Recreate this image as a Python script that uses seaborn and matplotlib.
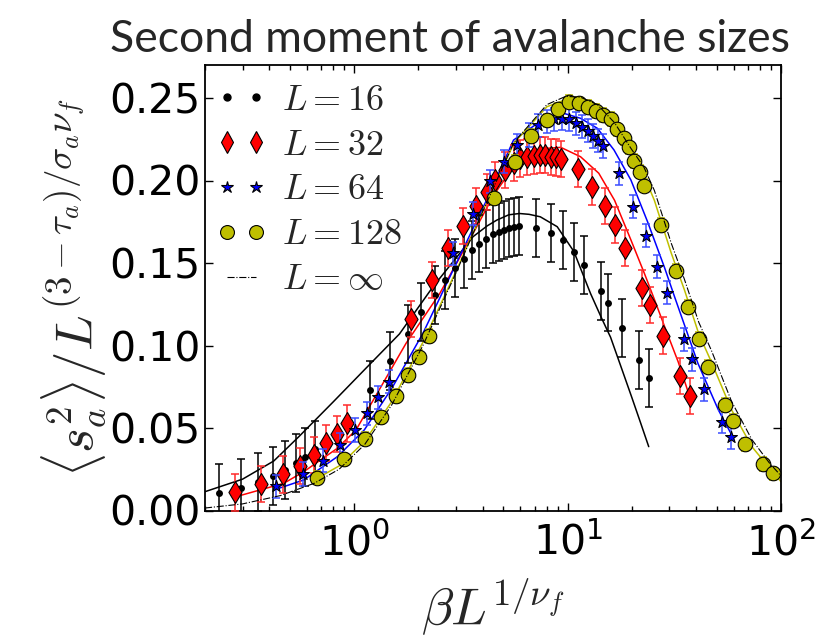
import numpy as np
import matplotlib
matplotlib.use('Agg')
import matplotlib.pyplot as plt
import seaborn as sns
from matplotlib.lines import Line2D
from matplotlib.font_manager import FontProperties
from matplotlib.ticker import FormatStrFormatter

# ---------------- data ----------------
# L = 16 data points
x16 = [0.233, 0.294, 0.354, 0.415, 0.473, 0.531, 0.589, 0.653, 1.186, 1.473, 1.786, 2.06,
       2.38, 2.67, 2.97, 3.27, 3.58, 3.86, 4.16, 4.46, 4.76, 5.05, 5.33, 5.63, 5.95, 7.13,
       8.32, 9.53, 10.7, 11.9, 14.3, 15.5, 17.9, 21.6, 24.0]
y16 = [0.0104, 0.0138, 0.0175, 0.0207, 0.0245, 0.029, 0.0326, 0.037, 0.073, 0.0908, 0.107,
       0.1205, 0.1306, 0.1397, 0.147, 0.1522, 0.158, 0.1618, 0.1644, 0.1674, 0.169, 0.170,
       0.171, 0.172, 0.1726, 0.171, 0.168, 0.164, 0.1565, 0.149, 0.133, 0.126, 0.1108,
       0.0912, 0.0805]
e16 = [0.0175] * len(x16)

# L = 32 data points
x32 = [0.277, 0.365, 0.463, 0.556, 0.648, 0.738, 0.834, 0.924, 1.84, 2.32, 2.75, 3.24, 3.71,
       4.17, 4.57, 5.1, 5.58, 6.0, 6.45, 6.93, 7.45, 7.87, 8.38, 8.81, 9.29, 11.2, 13.0,
       14.9, 16.7, 18.6, 22.4, 24.4, 27.9, 33.8, 37.3]
y32 = [0.011, 0.0159, 0.0219, 0.027, 0.0336, 0.0407, 0.0464, 0.0528, 0.116, 0.1397, 0.159,
       0.1726, 0.1845, 0.1932, 0.2003, 0.2064, 0.2104, 0.2134, 0.2144, 0.2148, 0.2155,
       0.2155, 0.2144, 0.214, 0.213, 0.2068, 0.1962, 0.1847, 0.173, 0.159, 0.1347, 0.1245,
       0.106, 0.0815, 0.0696]
e32 = [0.011] * len(x32)

# L = 64 data points
x64 = [0.43, 0.575, 0.717, 0.859, 1.008, 1.148, 1.30, 1.45, 2.91, 3.61, 4.33, 5.06, 5.79,
       6.56, 7.3, 8.0, 8.6, 9.37, 10.14, 10.9, 11.7, 12.4, 13.1, 13.9, 14.6, 17.5, 20.3,
       23.3, 26.3, 29.3, 35.0, 38.2, 43.6, 52.7, 58.2]
y64 = [0.0148, 0.0221, 0.0302, 0.0397, 0.0488, 0.0589, 0.0686, 0.078, 0.1559, 0.180,
       0.1996, 0.2114, 0.2213, 0.2276, 0.2336, 0.236, 0.237, 0.2375, 0.237, 0.2347, 0.2326,
       0.2302, 0.227, 0.2241, 0.2209, 0.2044, 0.1841, 0.1664, 0.1478, 0.132, 0.1037,
       0.0916, 0.0734, 0.0538, 0.0444]
e64 = [0.007] * len(x64)

# L = 128 data points
x128 = [0.671, 0.894, 1.12, 1.34, 1.57, 1.79, 2.02, 2.24, 4.5, 5.66, 6.75, 8.0, 9.02, 10.14,
        11.3, 12.5, 13.6, 14.7, 15.95, 17.0, 18.3, 19.5, 20.5, 21.8, 22.8, 27.3, 32.2, 36.6,
        41.2, 45.5, 54.6, 59.5, 68.1, 82.1, 92.1]
y128 = [0.02, 0.0311, 0.0436, 0.0566, 0.0694, 0.0821, 0.093, 0.1058, 0.1892, 0.2114, 0.227,
        0.2365, 0.2432, 0.2478, 0.2468, 0.2447, 0.2421, 0.2397, 0.2373, 0.231, 0.2256,
        0.2201, 0.2118, 0.2053, 0.1968, 0.173, 0.1453, 0.1235, 0.1041, 0.0872, 0.0639,
        0.0544, 0.0401, 0.0282, 0.0225]
e128 = [0.004] * len(x128)

# fitted scaling curves
fx16 = [0.2, 0.3, 0.42, 0.55, 0.8, 1.135, 1.63, 2.34, 3.0, 3.61, 4.2, 4.66, 5.3, 5.95, 6.6,
        7.45, 8.94, 10.7, 12.8, 14.5, 15.9, 18.0, 20.0, 22.0, 24.0]
fy16 = [0.0114, 0.019, 0.030, 0.0447, 0.066, 0.0862, 0.107, 0.1356, 0.153, 0.166, 0.1725,
        0.176, 0.1792, 0.180, 0.1795, 0.178, 0.172, 0.157, 0.1316, 0.116, 0.105, 0.0853,
        0.0685, 0.053, 0.0387]
fx32 = [0.28, 0.468, 0.58, 0.834, 1.02, 1.75, 2.52, 3.61, 4.5, 5.58, 6.93, 8.0, 9.29, 11.5,
        14.0, 16.6, 19.8, 22.9, 25.5, 28.5, 33.0, 38.0]
fy32 = [0.0084, 0.0165, 0.0235, 0.0377, 0.0488, 0.1013, 0.1316, 0.168, 0.191, 0.2084,
        0.2175, 0.2195, 0.2201, 0.2144, 0.2044, 0.188, 0.164, 0.1437, 0.128, 0.1114, 0.09,
        0.066]
fx64 = [0.42, 0.58, 0.834, 1.115, 1.5, 2.1, 3.01, 4.17, 5.58, 8.0, 9.6, 11.5, 13.8, 16.5,
        19.8, 23.7, 28.5, 31.7, 40.8, 50.9, 58.2]
fy64 = [0.0124, 0.0185, 0.0326, 0.0488, 0.074, 0.1074, 0.1498, 0.188, 0.2245, 0.2386,
        0.2407, 0.2377, 0.2316, 0.2185, 0.2003, 0.175, 0.147, 0.1296, 0.0892, 0.0609, 0.0468]
fx128 = [0.65, 0.85, 1.12, 1.5, 2.1, 3.0, 3.9, 5.6, 8.0, 9.8, 11.5, 13.8, 16.6, 19.8, 22.8,
         25.5, 30.6, 35.3, 41.2, 47.2, 58.7, 73.0, 88.0, 100.0]
fy128 = [0.0185, 0.027, 0.042, 0.066, 0.102, 0.145, 0.178, 0.2226, 0.2447, 0.249, 0.2478,
         0.2425, 0.231, 0.2153, 0.203, 0.188, 0.156, 0.1336, 0.107, 0.090, 0.0609, 0.0387,
         0.026, 0.0175]
fxinf = [0.2, 0.3, 0.45, 0.65, 0.85, 1.12, 1.5, 2.1, 3.0, 3.9, 5.6, 8.0, 9.8, 11.5, 13.8,
         16.6, 19.8, 22.8, 25.5, 30.6, 35.3, 41.2, 47.2, 58.7, 73.0, 88.0, 100.0]
fyinf = [0.0015, 0.004, 0.009, 0.0165, 0.025, 0.040, 0.064, 0.100, 0.144, 0.178, 0.223,
         0.246, 0.251, 0.2505, 0.246, 0.235, 0.2195, 0.208, 0.194, 0.162, 0.140, 0.114,
         0.097, 0.066, 0.043, 0.029, 0.021]

labels = ['$L=16$', '$L=32$', '$L=64$', '$L=128$', r'$L=\infty$']
yticks = [0.00, 0.05, 0.10, 0.15, 0.20, 0.25]

# ---------------- style ----------------
sns.set_style('ticks')
plt.rcParams.update({
    'font.family': ['DejaVu Sans'],
    'xtick.direction': 'in', 'ytick.direction': 'in',
    'xtick.top': True, 'ytick.right': True,
    'axes.linewidth': 1.3, 'axes.edgecolor': 'black',
    'xtick.major.size': 6, 'xtick.minor.size': 3.5,
    'ytick.major.size': 6, 'ytick.minor.size': 0,
    'xtick.major.width': 1.0, 'xtick.minor.width': 1.0, 'ytick.major.width': 1.0,
    'xtick.color': 'black', 'ytick.color': 'black',
})

fig = plt.figure(figsize=(8.22, 6.39), dpi=100)
ax = fig.add_axes([205 / 822, 1 - 510.5 / 639, 576 / 822, 445.5 / 639])
ax.set_xscale('log')

series = [
    (x16, y16, e16, fx16, fy16, 'k', 'k', 'o', 25, 0.0),
    (x32, y32, e32, fx32, fy32, 'r', '#ff2a2a', 'd', 125, 0.8),
    (x64, y64, e64, fx64, fy64, 'b', '#3a4dff', '*', 80, 0.8),
    (x128, y128, e128, fx128, fy128, '#bfbf00', '#bfbf00', 'o', 110, 0.8),
]

z = 2
for xs, ys, es, fx, fy, col, ecol, mk, size, elw in series:
    sns.lineplot(x=fx, y=fy, ax=ax, color=col, lw=1.1, sort=False, estimator=None,
                 legend=False, zorder=2)
for xs, ys, es, fx, fy, col, ecol, mk, size, elw in series:
    ax.errorbar(xs, ys, yerr=es, fmt='none', ecolor=ecol, elinewidth=1.1, capsize=3,
                capthick=1.1, zorder=z)
    sns.scatterplot(x=xs, y=ys, ax=ax, color=col, marker=mk, s=size, edgecolor='k',
                    linewidth=elw, zorder=z + 1, legend=False)
    z += 2

sns.lineplot(x=fxinf, y=fyinf, ax=ax, color='k', lw=0.8, ls='-.', sort=False,
             estimator=None, legend=False, zorder=z)

ax.set_xlim(0.2, 100)
ax.set_ylim(0, 0.27)
ax.set_yticks(yticks)
ax.yaxis.set_major_formatter(FormatStrFormatter('%.2f'))
ax.tick_params(axis='both', which='major', labelsize=29.5)
ax.tick_params(axis='x', which='major', pad=9)
ax.tick_params(axis='y', which='major', pad=3)

ax.set_xlabel(r'$\beta L^{1/\nu_f}$', fontsize=38, math_fontfamily='cm', labelpad=9)
ax.set_ylabel(r'$\langle s_a^2\rangle/L^{(3-\tau_a)/\sigma_a\nu_f}$', fontsize=38,
              math_fontfamily='cm', labelpad=1)

handles = [
    Line2D([], [], ls='none', marker='o', color='k', ms=5),
    Line2D([], [], ls='none', marker='d', mfc='r', mec='k', mew=0.8, ms=11),
    Line2D([], [], ls='none', marker='*', mfc='b', mec='k', mew=0.8, ms=9),
    Line2D([], [], ls='none', marker='o', mfc='#bfbf00', mec='k', mew=0.8, ms=10),
    Line2D([], [], ls='-.', color='k', lw=0.8),
]
leg = ax.legend(handles, labels, loc='upper left', bbox_to_anchor=(0.02, 0.96),
                frameon=False, numpoints=2, handlelength=1.4, handletextpad=0.4,
                labelspacing=0.3, borderpad=0, borderaxespad=0,
                prop=FontProperties(size=26, math_fontfamily='cm'))

fig.text(450 / 822, 1 - 52 / 639, 'Second moment of avalanche sizes', ha='center',
         va='baseline', fontsize=32, family='Lato')

fig.savefig('out.png', dpi=100)
